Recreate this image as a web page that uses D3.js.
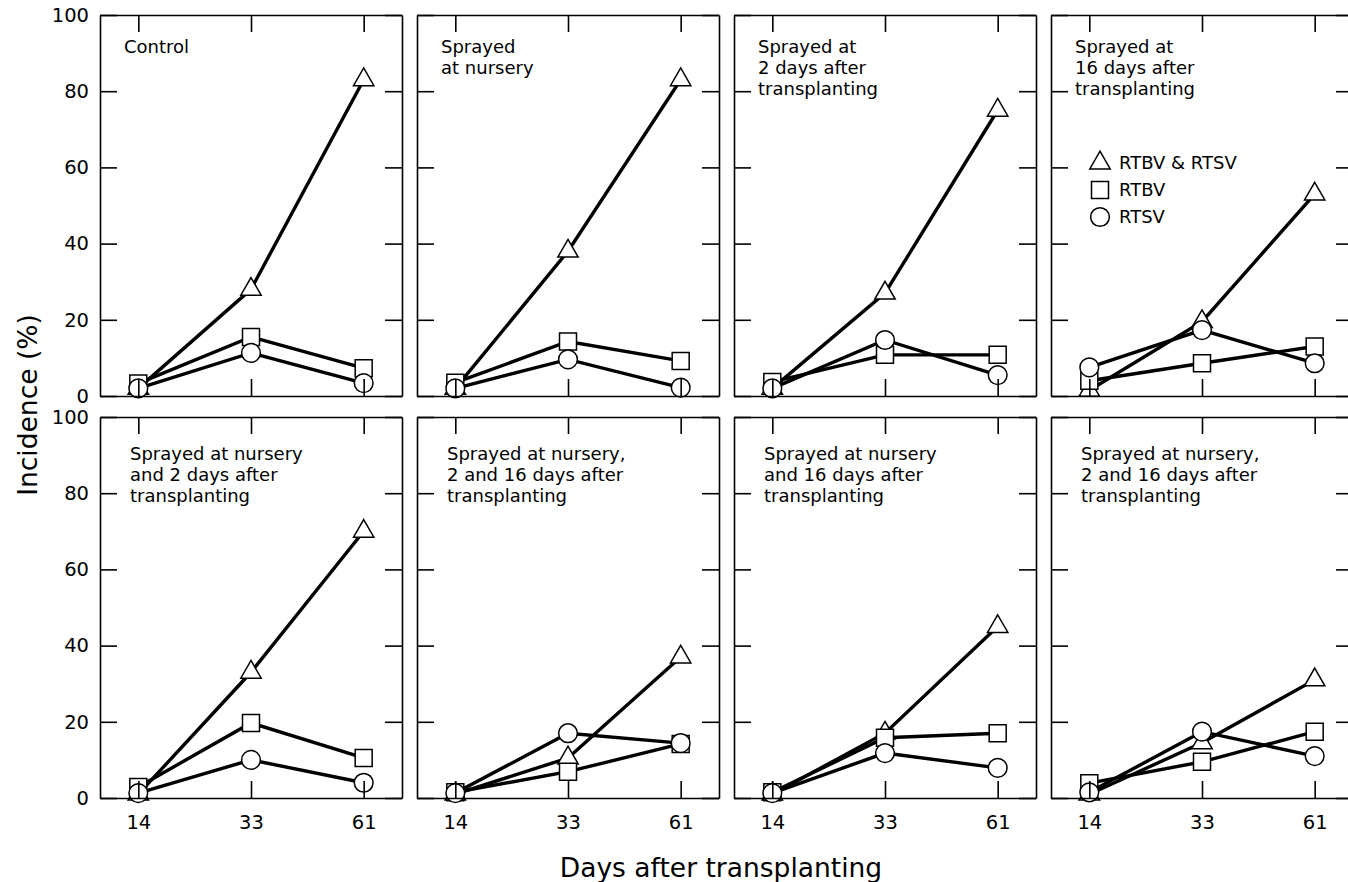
<!DOCTYPE html>
<html>
<head>
<meta charset="utf-8">
<script src="https://cdn.jsdelivr.net/npm/d3@7"></script>
<style>
  body { margin: 0; background: #fff; }
  svg { display: block; font-family: "DejaVu Sans", sans-serif; }
</style>
</head>
<body>
<div class="graph"></div>
<script>
// Data
var days = ["14", "33", "61"];
var yTicks = [0, 20, 40, 60, 80, 100];
var panelLabels = [
    ["Control"],
    ["Sprayed", "at nursery"],
    ["Sprayed at", "2 days after", "transplanting"],
    ["Sprayed at", "16 days after", "transplanting"],
    ["Sprayed at nursery", "and 2 days after", "transplanting"],
    ["Sprayed at nursery,", "2 and 16 days after", "transplanting"],
    ["Sprayed at nursery", "and 16 days after", "transplanting"],
    ["Sprayed at nursery,", "2 and 16 days after", "transplanting"]
];
var seriesNames = ["RTBV & RTSV", "RTBV", "RTSV"];
var bothVals = [[2, 28, 83], [2, 38, 83], [2, 27, 75], [1.5, 19.5, 53],
                [1, 33, 70], [1, 10.5, 37], [1, 17, 45], [1, 14.5, 31]];
var rtbvVals = [[3.3, 15.5, 7.3], [3.5, 14.3, 9.2], [3.7, 10.8, 10.8], [4, 8.6, 13],
                [2.9, 19.7, 10.5], [1.5, 6.9, 14.2], [1.5, 15.8, 17], [3.9, 9.5, 17.4]];
var rtsvVals = [[2, 11.3, 3.4], [2, 9.6, 2.2], [2, 14.7, 5.5], [7.5, 17.3, 8.6],
                [1.3, 10, 4], [1.3, 17, 14.4], [1.3, 11.8, 7.9], [1.5, 17.4, 11]];

// Configuration
var width = 1348;
var height = 882;
var panelW = 302;
var panelH = 381;
var colStep = 317;
var firstLeft = 100;
var rowTops = [15, 417];
var tickLen = 17;

var svg = d3.select(".graph").append("svg")
    .attr("width", width)
    .attr("height", height);

var x = d3.scalePoint().domain(days).range([0, panelW]).padding(0.34);
var y = d3.scaleLinear().domain([0, 100]).range([panelH, 0]);

var symbolTypes = [d3.symbolTriangle, d3.symbolSquare, d3.symbolCircle];
var symbolSizes = [180, 289, 275];
function symbolPath(i) {
    return d3.symbol().type(symbolTypes[i]).size(symbolSizes[i])();
}

var line = d3.line()
    .x(function (d, i) { return x(days[i]); })
    .y(function (d) { return y(d); });

function render() {
    panelLabels.forEach(function (lbl, p) {
        var col = p % 4, row = Math.floor(p / 4);
        var g = svg.append("g")
            .attr("transform", "translate(" + (firstLeft + col * colStep) + "," + rowTops[row] + ")");
        var series = [bothVals[p], rtbvVals[p], rtsvVals[p]];

        // lines
        g.selectAll("path.line").data(series).enter().append("path")
            .attr("class", "line")
            .attr("d", line)
            .attr("fill", "none")
            .attr("stroke", "#000")
            .attr("stroke-width", 3.4);

        // markers
        series.forEach(function (vals, s) {
            g.selectAll("path.m" + s).data(vals).enter().append("path")
                .attr("class", "m" + s)
                .attr("d", symbolPath(s))
                .attr("transform", function (d, i) { return "translate(" + x(days[i]) + "," + y(d) + ")"; })
                .attr("fill", "#fff")
                .attr("stroke", "#000")
                .attr("stroke-width", 1.5);
        });

        // frame and ticks
        var showY = col === 0, showX = row === 1;
        var axes = [
            [d3.axisLeft(y).tickValues(yTicks).tickFormat(showY ? d3.format("d") : ""), 0, 0],
            [d3.axisRight(y).tickValues(yTicks).tickFormat(""), panelW, 0],
            [d3.axisTop(x).tickFormat(""), 0, 0],
            [d3.axisBottom(x).tickFormat(showX ? null : ""), 0, panelH]
        ];
        axes.forEach(function (a, k) {
            var ax = g.append("g")
                .attr("transform", "translate(" + a[1] + "," + a[2] + ")")
                .call(a[0].tickSizeInner(-tickLen).tickSizeOuter(0).tickPadding(k === 0 ? 11 : 17));
            ax.selectAll("path, line").attr("stroke", "#000").attr("stroke-width", 1.6);
            ax.selectAll("text").attr("font-size", 19.5).attr("fill", "#000")
                .attr("font-family", "DejaVu Sans");
        });

        // panel label
        var tx = row === 0 ? 24 : 30, ty = row === 0 ? 38 : 43;
        g.append("text")
            .attr("font-size", 18)
            .selectAll("tspan").data(lbl).enter().append("tspan")
            .attr("x", tx)
            .attr("y", function (d, i) { return ty + i * 21; })
            .text(function (d) { return d; });

        // legend
        if (p === 3) {
            var lg = g.append("g").attr("transform", "translate(49,148)");
            seriesNames.forEach(function (name, s) {
                lg.append("path")
                    .attr("d", symbolPath(s))
                    .attr("transform", "translate(0," + (s * 27) + ")")
                    .attr("fill", "#fff")
                    .attr("stroke", "#000")
                    .attr("stroke-width", 1.5);
                lg.append("text")
                    .attr("x", 19)
                    .attr("y", s * 27 + 6)
                    .attr("font-size", 18)
                    .text(name);
            });
        }
    });

    // axis titles
    svg.append("text")
        .attr("transform", "rotate(-90)")
        .attr("x", -405)
        .attr("y", 37)
        .attr("text-anchor", "middle")
        .attr("font-size", 26.5)
        .text("Incidence (%)");
    svg.append("text")
        .attr("x", 721)
        .attr("y", 877)
        .attr("text-anchor", "middle")
        .attr("font-size", 26.5)
        .text("Days after transplanting");
}

render();
</script>
</body>
</html>
